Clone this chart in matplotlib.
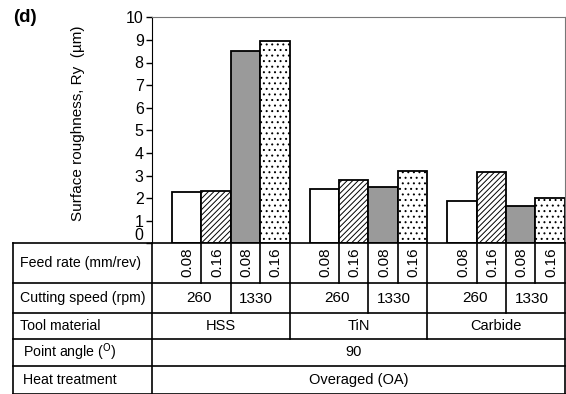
import numpy as np
import matplotlib.pyplot as plt

plt.rcParams['font.family'] = ['Liberation Sans', 'DejaVu Sans']
plt.rcParams['hatch.linewidth'] = 0.7

# data
groups = ['HSS', 'TiN', 'Carbide']
feed_labels = ['0.08', '0.16', '0.08', '0.16']
speed_labels = ['260', '1330']
ry_260_008 = [2.26, 2.39, 1.86]
ry_260_016 = [2.31, 2.79, 3.15]
ry_1330_008 = [8.51, 2.49, 1.66]
ry_1330_016 = [8.95, 3.20, 2.02]
row_labels = ['Feed rate (mm/rev)', 'Cutting speed (rpm)', 'Tool material',
              'Point angle ($^{\\mathrm{O}}$)', 'Heat treatment']
point_angle = '90'
heat_treatment = 'Overaged (OA)'

series = [ry_260_008, ry_260_016, ry_1330_008, ry_1330_016]
styles = [dict(facecolor='white', hatch=None),
          dict(facecolor='white', hatch='//////'),
          dict(facecolor='#9a9a9a', hatch=None),
          dict(facecolor='white', hatch='...')]

W, H = 566, 394
fig = plt.figure(figsize=(W / 100, H / 100), dpi=100)

# main bar axes (pixel box 152..565 x 17..243)
ax = fig.add_axes([152 / W, 1 - 243.3 / H, 413 / W, 226 / H])
gap, bw = 0.145, 0.2135
for k, (vals, st) in enumerate(zip(series, styles)):
    x = np.arange(len(groups)) + gap + (k + 0.5) * bw
    ax.bar(x, vals, width=bw, edgecolor='black', linewidth=1.3, **st)

ax.set_xlim(0, 3)
ax.set_ylim(0, 10)
ax.set_yticks(range(0, 11))
ax.set_xticks([])
ax.tick_params(axis='y', labelsize=11.5, length=4, width=1, pad=2)
ax.get_yticklabels()[0].set_va('bottom')
for s in ['top', 'right']:
    ax.spines[s].set_color('#777777')
ax.spines['bottom'].set_visible(False)
ax.set_ylabel('Surface roughness, Ry  (\u00b5m)', fontsize=11)
ax.yaxis.set_label_coords(-0.163, 0.53)
fig.text(13 / W, 1 - 17 / H, '(d)', fontsize=13.5, fontweight='bold', va='center')

# overlay axes in pixel coordinates for the table
tab = fig.add_axes([0, 0, 1, 1])
tab.set_xlim(0, W)
tab.set_ylim(H, 0)
tab.axis('off')

def px(xd):
    return ax.transData.transform((xd, 0))[0]

rows = [243.3, 283, 313, 339, 366, 393.5]
x0, xl = 13, px(0)
xr = px(3)
lw = 1.2
for y in rows:
    tab.plot([x0, xr], [y, y], color='black', lw=lw)
for xx in [x0, xl, xr]:
    tab.plot([xx, xx], [rows[0], rows[-1]], color='black', lw=lw)

for i, lab in enumerate(row_labels):
    xt = 20 if i < 3 else 23
    tab.text(xt, (rows[i] + rows[i + 1]) / 2, lab, fontsize=10.2, va='center', ha='left')

for g in range(len(groups)):
    edges = [px(g + gap + k * bw) for k in range(5)]
    gl, gr = px(g), px(g + 1)
    # feed rate row
    for k in range(4):
        if k > 0:
            tab.plot([edges[k], edges[k]], [rows[0], rows[1]], color='black', lw=lw)
        tab.text((edges[k] + edges[k + 1]) / 2 + 1, (rows[0] + rows[1]) / 2 - 1, feed_labels[k],
                 rotation=90, fontsize=11, ha='center', va='center')
    # cutting speed row
    tab.plot([edges[2], edges[2]], [rows[1], rows[2]], color='black', lw=lw)
    tab.text((gl + edges[2]) / 2 + 8, (rows[1] + rows[2]) / 2, speed_labels[0],
             fontsize=11, ha='center', va='center')
    tab.text((edges[2] + gr) / 2 - 4, (rows[1] + rows[2]) / 2 + 1, speed_labels[1],
             fontsize=11, ha='center', va='center')
    # tool material row
    if g > 0:
        tab.plot([gl, gl], [rows[0], rows[3]], color='black', lw=lw)
    tab.text((gl + gr) / 2, (rows[2] + rows[3]) / 2, groups[g],
             fontsize=10.5, ha='center', va='center')

tab.text((xl + xr) / 2 - 5, (rows[3] + rows[4]) / 2, point_angle, fontsize=10.5,
         ha='center', va='center')
tab.text((xl + xr) / 2, (rows[4] + rows[5]) / 2, heat_treatment, fontsize=10.5,
         ha='center', va='center')

fig.savefig('out.png', dpi=100)
